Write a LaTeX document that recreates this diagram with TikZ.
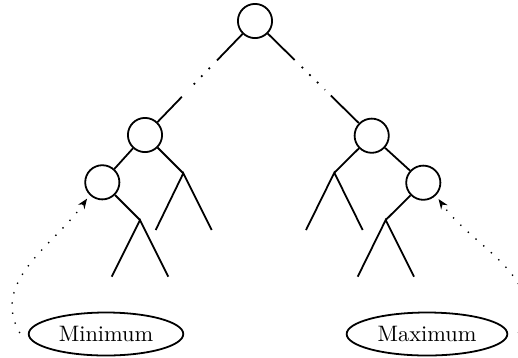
\documentclass[tikz,border=0pt]{standalone}
\usetikzlibrary{calc,shapes.geometric,arrows.meta}
\begin{document}
\begin{tikzpicture}[x=0.4474pt, y=-0.4474pt,
  treenode/.style={circle, draw, thick, minimum size=15.3pt, inner sep=0pt},
  branch/.style={thick},
  gapline/.style={thick, loosely dotted},
  labelnode/.style={ellipse, draw, thick},
  pointer/.style={-{Stealth[length=4.5pt,width=3.5pt]}, semithick, loosely dotted, shorten >=2pt}]
\useasboundingbox (0,0) rectangle (518,357);

% tree nodes
\node[treenode] (root) at (255,21) {};
\node[treenode] (L)  at (145,135) {};
\node[treenode] (R)  at (371.7,135.7) {};
\node[treenode] (LL) at (102.3,182.3) {};
\node[treenode] (RR) at (423.3,182.7) {};

% junctions and leaf ends of the stick subtrees
\coordinate (Lr)   at (183.3,173.3);
\coordinate (Lra)  at (155.7,230);
\coordinate (Lrb)  at (211.7,230);
\coordinate (LLr)  at (140,220);
\coordinate (LLra) at (111.7,276.7);
\coordinate (LLrb) at (168.3,276.7);
\coordinate (Rl)   at (334.3,172.7);
\coordinate (Rla)  at (306,230);
\coordinate (Rlb)  at (362.7,230);
\coordinate (RRl)  at (385.7,220);
\coordinate (RRla) at (357.7,276.7);
\coordinate (RRlb) at (414,276.7);

% root edges, interrupted by dots
\coordinate (rl1) at ($(root)!0.345!(L)$);
\coordinate (rl2) at ($(root)!0.41!(L)$);
\coordinate (rl3) at ($(root)!0.61!(L)$);
\coordinate (rl4) at ($(root)!0.665!(L)$);
\draw[branch] (root) -- (rl1);
\draw[gapline] (rl2) -- (rl3);
\draw[branch] (rl4) -- (L);
\coordinate (rr1) at ($(root)!0.34!(R)$);
\coordinate (rr2) at ($(root)!0.40!(R)$);
\coordinate (rr3) at ($(root)!0.60!(R)$);
\coordinate (rr4) at ($(root)!0.65!(R)$);
\draw[branch] (root) -- (rr1);
\draw[gapline] (rr2) -- (rr3);
\draw[branch] (rr4) -- (R);

% left subtree
\draw[branch] (L) -- (LL);
\draw[branch] (L) -- (Lr);
\draw[branch] (Lra) -- (Lr) -- (Lrb);
\draw[branch] (LL) -- (LLr);
\draw[branch] (LLra) -- (LLr) -- (LLrb);

% right subtree
\draw[branch] (R) -- (RR);
\draw[branch] (R) -- (Rl);
\draw[branch] (Rla) -- (Rl) -- (Rlb);
\draw[branch] (RR) -- (RRl);
\draw[branch] (RRla) -- (RRl) -- (RRlb);

% labels
\node[labelnode] (Min) at (106,334) {Minimum};
\node[labelnode] (Max) at (427,334) {Maximum};

% pointers to the extreme nodes
\coordinate (minfrom) at ($(Min.west)+(-8,-1)$);
\coordinate (maxfrom) at ($(Max.east)+(10,-1)$);
\draw[pointer] (minfrom) to[out=120, in=-125] (LL.south west);
\draw[pointer] (maxfrom) to[out=60, in=-55] (RR.south east);
\end{tikzpicture}
\end{document}
